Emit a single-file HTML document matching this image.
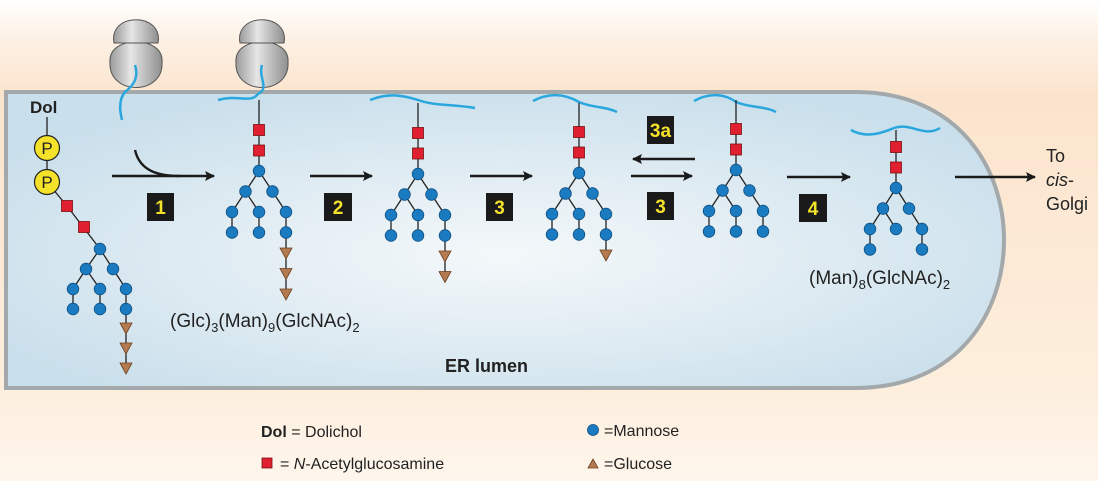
<!DOCTYPE html>
<html><head><meta charset="utf-8"><style>
html,body{margin:0;padding:0;background:#fff}
svg{display:block}
text{font-family:"Liberation Sans",Arial,sans-serif;fill:#222}
</style></head><body>
<svg id="fig" width="1098" height="481" viewBox="0 0 1098 481" xmlns="http://www.w3.org/2000/svg">
<defs>
<linearGradient id="bg" x1="0" y1="0" x2="0" y2="1">
<stop offset="0" stop-color="#ffffff"/><stop offset="0.08" stop-color="#fdf1e4"/><stop offset="0.2" stop-color="#fbe4cd"/><stop offset="0.8" stop-color="#fdeedd"/><stop offset="1" stop-color="#fef6ec"/>
</linearGradient>
<radialGradient id="lumen" cx="0.5" cy="0.55" r="0.6">
<stop offset="0" stop-color="#f4f8fa"/><stop offset="0.6" stop-color="#dbe9f1"/><stop offset="1" stop-color="#c9dfeb"/>
</radialGradient>
<linearGradient id="ribo" x1="0" y1="0" x2="1" y2="0">
<stop offset="0" stop-color="#9a9a9a"/><stop offset="0.4" stop-color="#e6e6e6"/><stop offset="1" stop-color="#8f8f8f"/>
</linearGradient>
<marker id="ah" markerWidth="10" markerHeight="10" refX="9" refY="5" orient="auto" markerUnits="userSpaceOnUse"><path d="M0,0 L10,5 L0,10 L2,5 Z" fill="#1a1a1a"/></marker>
</defs>
<rect x="0" y="0" width="1098" height="481" fill="url(#bg)"/>
<path d="M6,92 H855 C960,92 1004,170 1004,240 C1004,310 960,388 855,388 H6 Z" fill="url(#lumen)" stroke="#a3a8ab" stroke-width="4"/>
<g id="ribosomes"></g>
<g id="trees"></g>
<g id="arrows"></g>
<text x="30" y="113" font-size="17" font-weight="bold">Dol</text>
<text x="170" y="327" font-size="19">(Glc)<tspan font-size="13" dy="5">3</tspan><tspan dy="-5">(Man)</tspan><tspan font-size="13" dy="5">9</tspan><tspan dy="-5">(GlcNAc)</tspan><tspan font-size="13" dy="5">2</tspan></text>
<text x="809" y="284" font-size="19">(Man)<tspan font-size="13" dy="5">8</tspan><tspan dy="-5">(GlcNAc)</tspan><tspan font-size="13" dy="5">2</tspan></text>
<text x="445" y="372" font-size="18" font-weight="bold">ER lumen</text>
<text font-size="18"><tspan x="1046" y="162">To</tspan><tspan x="1046" y="186" font-style="italic">cis</tspan><tspan>-</tspan><tspan x="1046" y="210">Golgi</tspan></text>
<g>
<text x="261" y="437" font-size="16"><tspan font-weight="bold">Dol</tspan> = Dolichol</text>
<rect x="262" y="458" width="10" height="10" fill="#e02030" stroke="#7a1010" stroke-width="0.8"/>
<text x="280" y="469" font-size="16">= <tspan font-style="italic">N</tspan>-Acetylglucosamine</text>
<circle cx="593" cy="430" r="5.5" fill="#1b7bc0" stroke="#0c4d80" stroke-width="0.8"/>
<text x="604" y="436" font-size="16">=Mannose</text>
<path d="M588,468 L598,468 L593,459 Z" fill="#b47a50" stroke="#6e4020" stroke-width="0.8"/>
<text x="604" y="469" font-size="16">=Glucose</text>
</g>
</svg>
<script>
var NS="http://www.w3.org/2000/svg";
function mk(tag,attrs,parent){var e=document.createElementNS(NS,tag);for(var k in attrs)e.setAttribute(k,attrs[k]);parent.appendChild(e);return e;}
var ribG=document.getElementById('ribosomes');
var riboX=[136,262];
riboX.forEach(function(x,i){
  var g=mk('g',{},ribG);
  
  
  mk('path',{d:'M'+(x-26)+',62 C'+(x-28)+',35 '+(x+28)+',35 '+(x+26)+',62 C'+(x+28)+',96 '+(x-28)+',96 '+(x-26)+',62 Z',fill:'url(#ribo)',stroke:'#555','stroke-width':1},g);
  mk('path',{d:'M'+(x-22)+',43 C'+(x-28)+',12 '+(x+28)+',12 '+(x+22)+',43 Z',fill:'url(#ribo)',stroke:'#555','stroke-width':1},g);
});
var chains=['M135,65 C140,80 130,88 125,92 C118,100 120,112 122,120','M262,65 C258,78 270,88 258,94 C250,104 238,94 218,100','M370,100 C390,92 405,96 418,100 C435,106 450,104 475,108','M533,101 C550,92 565,94 579,102 C592,108 605,106 617,112','M694,101 C710,92 725,94 736,102 C750,108 765,106 776,112','M851,130 C865,138 880,134 894,128 C910,122 925,138 940,128'];
chains.forEach(function(d){var p=mk('path',{d:d,fill:'none',stroke:'#2aa7de','stroke-width':2.5},ribG);});
var T=document.getElementById('trees');
function line(x1,y1,x2,y2){mk('line',{x1:x1,y1:y1,x2:x2,y2:y2,stroke:'#222','stroke-width':1.3},T);}
function sq(x,y){var e=mk('rect',{x:x-5.5,y:y-5.5,width:11,height:11,fill:'#e02030',stroke:'#7a1010','stroke-width':0.8},T);}
function ci(x,y){var e=mk('circle',{cx:x,cy:y,r:5.8,fill:'#1b7bc0',stroke:'#0c4d80','stroke-width':0.8},T);}
function tri(x,y){var e=mk('path',{d:'M'+(x-6)+','+(y-5)+' L'+(x+6)+','+(y-5)+' L'+x+','+(y+6)+' Z',fill:'#b47a50',stroke:'#6e4020','stroke-width':0.8},T);}
function tree(x,yt,ys,dx,dy,nglc,man8){
  var r=ys+2*dy;
  var L2=r+dy, L3=r+2*dy, L4=r+3*dy;
  line(x,yt,x,r);
  line(x,r,x-dx,L2);line(x,r,x+dx,L2);
  line(x-dx,L2,x-2*dx,L3);line(x-dx,L2,x,L3);line(x+dx,L2,x+2*dx,L3);
  line(x-2*dx,L3,x-2*dx,L4);if(!man8)line(x,L3,x,L4);line(x+2*dx,L3,x+2*dx,L4);
  var last=L4;
  for(var i=0;i<nglc;i++){line(x+2*dx,last,x+2*dx,L4+dy*(i+1));last=L4+dy*(i+1);}
  sq(x,ys);sq(x,ys+dy);ci(x,r);ci(x-dx,L2);ci(x+dx,L2);
  ci(x-2*dx,L3);ci(x,L3);ci(x+2*dx,L3);ci(x-2*dx,L4);if(!man8)ci(x,L4);ci(x+2*dx,L4);
  for(var j=0;j<nglc;j++)tri(x+2*dx,L4+dy*(j+1));
}
tree(259,100,130,13.5,20.5,3,false);
tree(418,103,133,13.5,20.5,2,false);
tree(579,103,132,13.5,20.5,1,false);
tree(736,100,129,13.5,20.5,0,false);
tree(896,130,147,13,20.5,0,true);
(function(){
  line(47,117,47,182);line(47,182,67,206);line(67,206,100,249);
  var P=[148,182];
  P.forEach(function(y){var c=mk('circle',{cx:47,cy:y,r:12.5,fill:'#f4e12a',stroke:'#222','stroke-width':1.2},T);var t=mk('text',{x:47,y:y+6,'font-size':17,'text-anchor':'middle'},T);t.textContent='P';});
  line(100,249,86,269);line(100,249,113,269);line(86,269,73,289);line(86,269,100,289);line(113,269,126,289);
  line(73,289,73,309);line(100,289,100,309);line(126,289,126,368);
  sq(67,206);sq(84,227);ci(100,249);ci(86,269);ci(113,269);ci(73,289);ci(100,289);ci(126,289);ci(73,309);ci(100,309);ci(126,309);
  tri(126,328);tri(126,348);tri(126,368);
})();
var A=document.getElementById('arrows');
function arrow(x1,x2,y,name){var l=mk('line',{x1:x1,y1:y,x2:x2,y2:y,stroke:'#1a1a1a','stroke-width':2.4,'marker-end':'url(#ah)'},A);}
arrow(112,214,176,'arrow-step-1');
var cv=mk('path',{d:'M135,150 C140,172 160,176 180,176',fill:'none',stroke:'#1a1a1a','stroke-width':2.4},A);
arrow(310,372,176,'arrow-step-2');
arrow(470,532,176,'arrow-step-3');
arrow(695,633,159,'arrow-step-3a');
arrow(631,692,176,'arrow-step-3-forward');
arrow(787,850,177,'arrow-step-4');
arrow(955,1035,177,'arrow-to-golgi');
function box(x,y,w,label){var g=mk('g',{},A);mk('rect',{x:x,y:y,width:w,height:28,fill:'#1a1a1a'},g);var t=mk('text',{x:x+w/2,y:y+21,'font-size':19,'font-weight':'bold','text-anchor':'middle',style:'fill:#f4e12a'},g);t.textContent=label;}
box(147,193,27,'1');box(324,193,28,'2');box(486,193,27,'3');box(647,116,27,'3a');box(647,192,27,'3');box(799,194,28,'4');
</script>
</body></html>
